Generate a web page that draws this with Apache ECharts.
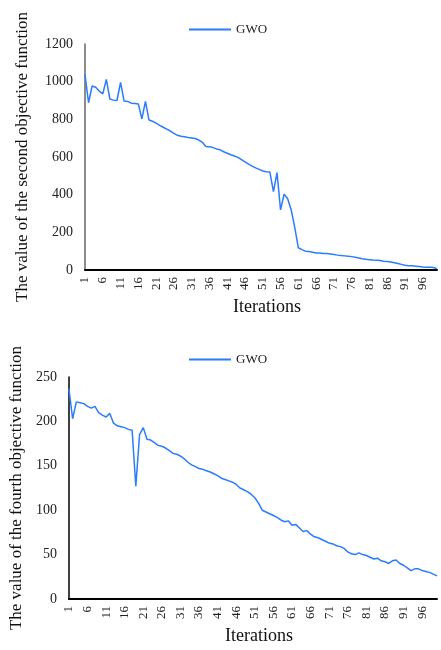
<!DOCTYPE html>
<html lang="en">
<head>
<meta charset="UTF-8">
<title></title>
<style>
    body { margin: 0; background: #fff; }
    #chart1 { position: absolute; left: 0; top: 0; width: 441px; height: 325px; }
    #chart2 { position: absolute; left: 0; top: 325px; width: 441px; height: 325px; }
</style>
</head>
<body>
<div id="chart1"></div>
<div id="chart2"></div>
<script src="https://cdn.jsdelivr.net/npm/echarts@6/dist/echarts.min.js"></script>
<script>
    // iterations 1..100
    var iterations = [];
    for (var i = 1; i <= 100; i++) iterations.push(String(i));

    // second objective function (GWO)
    var secondObj = [
        1039, 888, 977, 970, 950, 935, 1012, 908, 902, 900,
        996, 897, 895, 886, 884, 882, 802, 895, 796, 790,
        780, 768, 758, 748, 738, 725, 715, 710, 707, 703,
        701, 698, 690, 678, 656, 655, 650, 643, 638, 628,
        620, 612, 605, 598, 586, 574, 562, 552, 542, 534,
        526, 522, 520, 416, 517, 319, 402, 378, 319, 225,
        118, 108, 100, 98, 94, 90, 90, 88, 87, 85,
        82, 79, 77, 75, 73, 71, 68, 64, 60, 57,
        55, 53, 52, 50, 47, 45, 42, 39, 35, 30,
        25, 23, 22, 20, 18, 16, 15, 15, 13, 7
    ];

    // fourth objective function (GWO)
    var fourthObj = [
        237, 203, 222, 221, 220, 217, 215, 217, 210, 207,
        205, 209, 198, 195, 194, 193, 191, 190, 127, 185,
        193, 180, 179, 176, 173, 172, 170, 167, 164, 163,
        161, 158, 154, 151, 149, 147, 146, 144.5, 143, 141,
        139, 136, 134.5, 133, 131.5, 129, 125, 123, 121, 118,
        114, 108, 100, 98, 96, 94, 92, 89, 87, 88,
        83, 84, 80, 76, 77, 73, 70, 69, 67, 65,
        63, 62, 60, 59, 57, 53, 51, 50, 52, 50,
        49, 47, 45, 46, 43, 42, 40, 43, 44, 40,
        38, 35, 32, 34, 34, 32, 31, 30, 28, 26
    ];

    var FONT = 'Liberation Serif';
    var BLUE = '#2b7cff';

    function makeOption(data, yName, yMax, yInterval, grid, legendTop, nameGap, yAxisColor) {
        return {
            animation: false,
            textStyle: { fontFamily: FONT },
            legend: {
                left: 184,
                top: legendTop,
                icon: 'rect',
                itemWidth: 42,
                itemHeight: 2,
                textStyle: { fontFamily: FONT, fontSize: 13, color: '#222' },
                data: ['GWO']
            },
            grid: grid,
            xAxis: {
                type: 'category',
                boundaryGap: false,
                data: iterations,
                name: 'Iterations',
                nameLocation: 'middle',
                nameGap: 28,
                nameTextStyle: { fontFamily: FONT, fontSize: 18, color: '#111', padding: [0, 0, 0, 12] },
                axisLine: { lineStyle: { color: '#000', width: 2 } },
                axisTick: { show: false },
                axisLabel: {
                    interval: 4,
                    rotate: 90,
                    margin: 7,
                    fontFamily: FONT,
                    fontSize: 13,
                    color: '#222'
                },
                splitLine: { show: false }
            },
            yAxis: {
                type: 'value',
                min: 0,
                max: yMax,
                interval: yInterval,
                name: yName,
                nameLocation: 'middle',
                nameGap: nameGap,
                nameTextStyle: { fontFamily: FONT, fontSize: 17, color: '#111' },
                axisLine: { show: true, lineStyle: { color: yAxisColor, width: 1.5 } },
                axisTick: { show: false },
                axisLabel: {
                    margin: 12, fontFamily: FONT, fontSize: 14, color: '#222',
                    formatter: function (v) { return String(v); }
                },
                splitLine: { show: false }
            },
            series: [{
                name: 'GWO',
                type: 'line',
                data: data,
                symbol: 'none',
                lineStyle: { color: BLUE, width: 1.5 },
                itemStyle: { color: BLUE }
            }]
        };
    }

    var chart1 = echarts.init(document.getElementById('chart1'));
    chart1.setOption(makeOption(
        secondObj,
        'The value of the second objective function',
        1200, 200,
        { left: 85, right: 4, top: 44, bottom: 55 },
        18, 54, '#666'
    ));

    var chart2 = echarts.init(document.getElementById('chart2'));
    chart2.setOption(makeOption(
        fourthObj,
        'The value of the fourth objective function',
        250, 50,
        { left: 63, right: 4, top: 52, bottom: 50 },
        23, 39, '#000'
    ));
</script>
</body>
</html>
